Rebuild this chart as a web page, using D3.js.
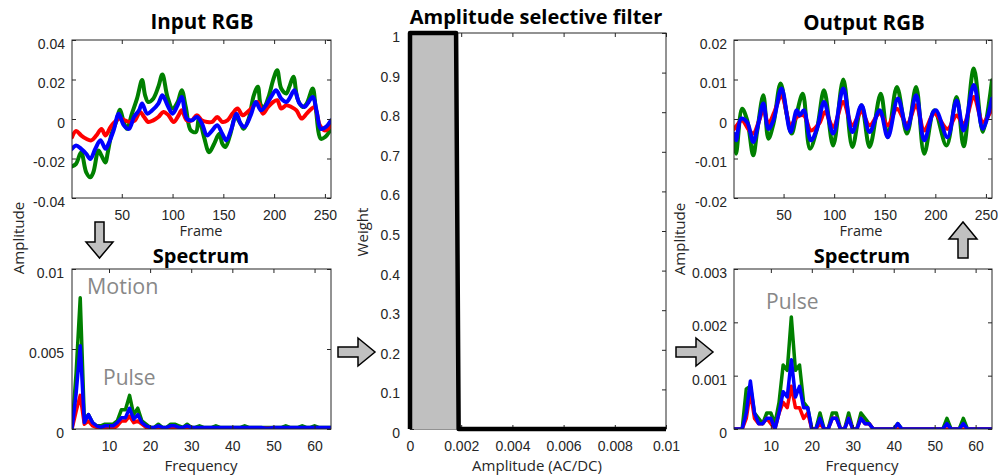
<!DOCTYPE html>
<html><head><meta charset="utf-8">
<script src="https://cdn.jsdelivr.net/npm/d3@7"></script>
<style>body{margin:0;background:#fff}svg{display:block}</style>
</head><body>
<svg id="c" width="998" height="476"></svg>
<script>
// ---------- DATA ----------
// Input RGB (frame, value)
const inFramesG = [1,5,10,15,19,22,27,30,34,36,40,45,48,52,55,60,65,70,73,76,81,86,90,95,100,105,109,113,118,123,126,131,136,141,146,149,152,157,162,167,170,175,180,184,187,190,195,199,203,207,212,215,219,223,228,232,238,241,246,250,255,256];
const inG = [-0.024,-0.0227,-0.0168,-0.027,-0.0295,-0.027,-0.016,-0.0185,-0.022,-0.0176,-0.0075,-0.0007,0.0047,-0.0015,-0.005,0.0027,0.0103,0.0197,0.012,0.0086,0.0103,0.0163,0.0225,0.0112,0.0053,0.0086,0.0146,0.0061,-0.0058,-0.0066,0.0002,-0.0092,-0.0168,-0.0125,-0.0075,-0.0125,-0.0142,-0.0075,0.001,-0.0024,-0.005,0.0002,0.012,0.0163,0.007,0.0061,0.012,0.0197,0.0247,0.0154,0.0129,0.0163,0.0214,0.0103,0.0061,0.0078,0.0154,0.0053,-0.01,-0.0092,-0.0058,-0.0046];
const inFramesR = [1,5,10,15,20,25,30,34,39,43,48,53,58,63,68,72,76,81,86,91,96,101,106,109,114,119,124,129,134,139,144,149,154,159,164,169,174,179,184,189,194,199,203,207,212,217,222,227,232,237,240,245,250,255,256];
const inR = [-0.0092,-0.0061,-0.0083,-0.01,-0.0108,-0.0083,-0.005,-0.0083,-0.004,-0.0015,0.0002,-0.0007,-0.0015,-0.0007,0.0036,0.001,-0.0015,-0.0007,0.001,0.0036,0.0019,-0.0015,0.0019,0.0044,-0.0007,-0.0007,0.0019,-0.0007,-0.0015,-0.0015,0.001,-0.0015,-0.0007,0.0027,0.0053,0.0019,0.0036,0.0061,0.0086,0.0027,0.0061,0.0086,0.0095,0.0053,0.007,0.0061,0.0044,0.0002,0.0027,0.0053,0.0061,-0.0032,-0.0058,-0.004,-0.0032];
const inFramesB = [1,5,10,15,19,24,29,34,37,42,47,52,57,62,67,70,75,80,86,90,95,100,105,109,114,119,124,129,134,139,144,149,153,158,163,167,171,177,182,187,192,197,202,207,212,215,220,225,230,233,238,242,246,251,256];
const inB = [-0.0151,-0.0134,-0.0151,-0.0176,-0.0202,-0.0151,-0.0108,-0.0151,-0.0125,-0.0058,0.0027,-0.0032,-0.005,0.001,0.0044,0.0078,0.0027,0.0044,0.0078,0.012,0.007,0.0027,0.007,0.0112,0.0002,-0.0007,0.001,-0.0024,-0.0083,-0.0058,-0.0032,-0.0075,-0.0108,-0.005,0.0027,-0.0024,-0.004,0.0019,0.0086,0.0044,0.007,0.0112,0.0146,0.0103,0.0086,0.0103,0.0146,0.0078,0.0061,0.0078,0.0112,0.0036,-0.005,-0.004,-0.0007];

// Output RGB (frame, value)
const outFramesG = [1,3,9,14,20,24,30,35,40,47,53,58,63,69,76,83,90,99,109,118,127,135,146,153,162,172,181,189,199,211,221,228,238,247,256];
const outG = [-0.0054,-0.0088,0.0026,-0.0003,-0.0092,-0.0029,0.006,-0.005,-0.0012,0.009,0.0014,-0.0037,0.0014,0.0064,-0.0075,-0.0025,0.0073,-0.0067,0.01,-0.0071,0.0035,-0.0071,0.0064,-0.0046,0.0081,-0.0037,0.0081,-0.0088,0.0022,-0.0067,0.0056,-0.0069,0.0128,-0.0033,0.0098];
const outFramesB = [1,3,8,14,20,25,30,35,40,48,57,63,66,70,77,83,90,99,109,118,127,135,145,153,163,172,181,189,198,201,212,221,228,238,247,256];
const outB = [-0.0037,-0.0054,0.0001,-0.0008,-0.0058,-0.0012,0.0039,-0.0025,-0.0003,0.0077,-0.0033,0.0022,0.0009,0.0022,-0.0054,-0.0025,0.0043,-0.0037,0.0077,-0.0033,0.0035,-0.0033,0.0022,-0.0046,0.0052,-0.0025,0.006,-0.0054,0.0018,0.0022,-0.0046,0.0047,-0.0029,0.0086,-0.0025,0.0052];
const outFramesR = [1,4,9,15,20,26,30,35,41,48,57,63,70,77,85,91,99,109,118,127,135,145,153,162,172,181,189,199,212,221,228,238,247,256];
const outR = [-0.0025,-0.0016,-0.0003,-0.0025,-0.0037,-0.0003,0.0026,-0.0012,0.0018,0.006,-0.0016,0.0005,0.0009,-0.0029,-0.0012,0.0018,-0.002,0.0043,-0.0016,0.0018,-0.0016,0.0014,-0.0016,0.0026,-0.0012,0.0035,-0.0029,0.0014,-0.0025,0.0009,-0.0012,0.0056,-0.0008,0.0026];

// Spectra: frequency bins 1..64
const freqs = d3.range(1, 65);
const specInG = [0,0.0035,0.0082,0.0006,0.0009,0.0004,0.0002,0.0002,0.0003,0.0003,
  0.0003,0.0005,0.0012,0.0012,0.0021,0.0009,0.0013,0.0005,0.0003,0.0001,
  0.0001,0.0003,0.0001,0.0001,0.0003,0.0003,0.0002,0.0001,0.0003,0.0001,
  0.0001,0.0002,0.0001,0.0001,0.0001,0.0002,0.0001,0.0001,0.0001,0.0001,
  0.0001,0.0001,0.0002,0.0001,0.0001,0.0001,0.0001,0.0001,0.0001,0.0001,
  0.0001,0.0001,0.0002,0.0001,0.0001,0.0001,0.0002,0.0001,0.0001,0.0002,
  0.0001,0.0001,0.0001,0.0001];
const specInR = [0,0.0011,0.0021,0.0003,0.0005,0.0002,0.0001,0.0001,0.0001,0.0001,
  0,0.0002,0.0005,0.0005,0.0008,0.0004,0.0005,0.0003,0.0001,0,
  0.00005,0.0001,0.00005,0.00005,0.0001,0.0001,0.00005,0.00005,0.0001,0.00005,
  0.00005,0.00005,0.00005,0.00005,0.00005,0.00005,0.00005,0.00005,0.00005,0.00005,
  0.00005,0.00005,0.00005,0.00005,0.00005,0.00005,0.00005,0.00005,0.00005,0.00005,
  0.00005,0.00005,0.00005,0.00005,0.00005,0.00005,0.00005,0.00005,0.00005,0.00005,
  0.00005,0.00005,0.00005,0.00005];
const specInB = [0,0.0022,0.0052,0.0004,0.0009,0.0004,0.0002,0.0001,0.0002,0.0002,
  0.0002,0.0004,0.0007,0.0007,0.0013,0.0006,0.0009,0.0004,0.0002,0.0001,
  0.0001,0.0002,0.0001,0.0001,0.0002,0.0002,0.0001,0.0001,0.0002,0.0001,
  0.0001,0.0001,0.0001,0.0001,0.0001,0.0001,0.0001,0.0001,0.0001,0.0001,
  0.0001,0.0001,0.0001,0.0001,0.0001,0.0001,0.0001,0.00005,0.00005,0.0001,
  0.0001,0.0001,0.0001,0.0001,0.0001,0.0001,0.0001,0.0001,0.0001,0.0001,
  0.0001,0.0001,0.0001,0.0001];
const specOutG = [0,0,0,0.00075,0.0008,0.0003,0.0002,0.0001,0.0003,0.0003,
  0.0001,0.0005,0.0012,0.0011,0.0021,0.0011,0.0012,0.0005,0.0004,0,
  0,0.0003,0,0,0.0003,0.0003,0,0,0.0003,0,
  0,0.0003,0.0002,0.0001,0,0,0,0,0,0,
  0.0001,0,0,0,0,0,0,0,0,0,
  0,0,0.0002,0,0,0,0.0002,0,0,0,
  0,0,0,0];
const specOutR = [0,0,0,0.0002,0.0007,0.0002,0.0001,0.0001,0.0002,0.0001,
  0,0.0003,0.0005,0.0004,0.0008,0.0004,0.0004,0.0002,0.0003,0,
  0,0.0001,0,0,0.0002,0.0002,0,0,0.0002,0,
  0,0.0002,0.0001,0.0001,0,0,0,0,0,0,
  0,0,0,0,0,0,0,0,0,0,
  0,0,0,0,0,0,0,0,0,0,
  0,0,0,0];
const specOutB = [0,0,0,0.0003,0.0009,0.0003,0.0001,0.0001,0.0002,0.0002,
  0,0.0003,0.0007,0.0006,0.0013,0.0006,0.0008,0.0004,0.0004,0,
  0,0.0002,0,0,0.0002,0.0002,0,0,0.0002,0,
  0,0.0002,0.0001,0.0001,0,0,0,0,0,0,
  0.0001,0,0,0,0,0,0,0,0,0,
  0,0,0.0001,0,0,0,0.0001,0,0,0,
  0,0,0,0];

// Amplitude selective filter
const filterX = [0, 0, 0.0018, 0.0019, 0.01];
const filterY = [0, 1, 1, 0, 0];

// Ticks
const frameTicks = [50,100,150,200,250];
const freqTicks = [10,20,30,40,50,60];
const inYTicks = [-0.04,-0.02,0,0.02,0.04];
const outYTicks = [-0.02,-0.01,0,0.01,0.02];
const specInYTicks = [0,0.005,0.01];
const specOutYTicks = [0,0.001,0.002,0.003];
const filtXTicks = [0,0.002,0.004,0.006,0.008,0.01];
const filtYTicks = [0,0.1,0.2,0.3,0.4,0.5,0.6,0.7,0.8,0.9,1];

const colG = "#008000", colR = "#ff0000", colB = "#0000ff";

// ---------- DRAW ----------
const svg = d3.select("#c");
const TICKFONT = "'Liberation Sans', Arial, sans-serif";
const LABFONT = "'Open Sans', 'Noto Sans', sans-serif";
let clipId = 0;

function fmt(v){ return String(+v.toPrecision(6)); }

function panel(o){
  const x = d3.scaleLinear().domain(o.xd).range([o.l, o.r]);
  const y = d3.scaleLinear().domain(o.yd).range([o.b, o.t]);
  const id = "clip" + (clipId++);
  svg.append("clipPath").attr("id", id).append("rect")
    .attr("x", o.l).attr("y", o.t).attr("width", o.r - o.l).attr("height", o.b - o.t);
  const g = svg.append("g");
  const lg = g.append("g").attr("clip-path", o.noclip ? null : `url(#${id})`);
  (o.series || []).forEach(s => {
    const pts = s.xs.map((xv, i) => [xv, s.ys[i]]);
    lg.append("path").datum(pts)
      .attr("fill", "none").attr("stroke", s.color).attr("stroke-width", o.lw)
      .attr("stroke-linejoin", "round").attr("stroke-linecap", "round")
      .attr("d", d3.line().x(d => x(d[0])).y(d => y(d[1])).curve(o.curve || d3.curveLinear));
  });
  const st = a => {
    a.select(".domain").remove();
    a.attr("font-family", TICKFONT).attr("font-size", 14);
    a.selectAll(".tick line").attr("stroke", "#262626");
    a.selectAll(".tick text").attr("fill", "#262626");
  };
  g.append("g").attr("transform", `translate(0,${o.b})`)
    .call(d3.axisBottom(x).tickValues(o.xt).tickFormat(fmt).tickSizeInner(-4).tickSizeOuter(0).tickPadding(12)).call(st);
  g.append("g").attr("transform", `translate(0,${o.t})`)
    .call(d3.axisTop(x).tickValues(o.xt).tickFormat("").tickSizeInner(-4).tickSizeOuter(0)).call(st);
  const la = g.append("g").attr("transform", `translate(${o.l},0)`)
    .call(d3.axisLeft(y).tickValues(o.yt).tickFormat(fmt).tickSizeInner(-4).tickSizeOuter(0).tickPadding(o.ypad || 7)).call(st);
  la.selectAll(".tick text").attr("y", 4);
  g.append("g").attr("transform", `translate(${o.r},0)`)
    .call(d3.axisRight(y).tickValues(o.yt).tickFormat("").tickSizeInner(-4).tickSizeOuter(0)).call(st);
  g.append("rect").attr("x", o.l).attr("y", o.t).attr("width", o.r - o.l).attr("height", o.b - o.t)
    .attr("fill", "none").attr("stroke", "#262626").attr("stroke-width", 1);
  if (o.top) o.top(g, x, y);
  return {x, y};
}

function text(s, x, y, opts){
  const t = svg.append("text").attr("x", x).attr("y", y).text(s)
    .attr("text-anchor", opts.anchor || "middle")
    .attr("font-family", opts.family || LABFONT)
    .attr("font-size", opts.size || 16)
    .attr("font-weight", opts.weight || "normal")
    .attr("fill", opts.fill || "#262626");
  if (opts.rotate) t.attr("transform", `rotate(-90,${x},${y})`);
  return t;
}

// Input RGB
panel({l:72, r:331, t:40, b:198, xd:[1,256], yd:[-0.04,0.04], xt:frameTicks, yt:inYTicks, lw:4,
  curve: d3.curveCatmullRom.alpha(0.5),
  series:[{xs:inFramesG, ys:inG, color:colG},{xs:inFramesR, ys:inR, color:colR},{xs:inFramesB, ys:inB, color:colB}]});
// Input spectrum
panel({l:72, r:331, t:269, b:429, xd:[1,64], yd:[0,0.01], xt:freqTicks, yt:specInYTicks, lw:3.5, ypad:8,
  series:[{xs:freqs, ys:specInG, color:colG},{xs:freqs, ys:specInR, color:colR},{xs:freqs, ys:specInB, color:colB}]});
// Filter
panel({l:410, r:666, t:33, b:429, xd:[0,0.01], yd:[0,1], xt:filtXTicks, yt:filtYTicks, lw:4, ypad:10, noclip:true,
  top:(g, x, y) => {
    const pts = filterX.map((v, i) => [v, filterY[i]]);
    g.append("path").datum(pts.slice(0, 4))
      .attr("fill", "#c0c0c0").attr("stroke", "none")
      .attr("d", d3.line().x(d => x(d[0])).y(d => y(d[1])));
    g.append("path").datum(pts)
      .attr("fill", "none").attr("stroke", "#000").attr("stroke-width", 4.5)
      .attr("stroke-linejoin", "round")
      .attr("d", d3.line().x(d => x(d[0])).y(d => y(d[1])));
  }});
// Output RGB
panel({l:734, r:992, t:40, b:198, xd:[1,256], yd:[-0.02,0.02], xt:frameTicks, yt:outYTicks, lw:4,
  curve: d3.curveCatmullRom.alpha(0.5),
  series:[{xs:outFramesG, ys:outG, color:colG},{xs:outFramesR, ys:outR, color:colR},{xs:outFramesB, ys:outB, color:colB}]});
// Output spectrum
panel({l:734, r:992, t:269, b:429, xd:[1,64], yd:[0,0.003], xt:freqTicks, yt:specOutYTicks, lw:3.5,
  series:[{xs:freqs, ys:specOutG, color:colG},{xs:freqs, ys:specOutR, color:colR},{xs:freqs, ys:specOutB, color:colB}]});

// Titles
text("Input RGB", 202, 29, {size:20.5, weight:"bold", fill:"#000"});
text("Spectrum", 201, 262.5, {size:20, weight:"bold", fill:"#000"});
text("Amplitude selective filter", 536, 24, {size:20, weight:"bold", fill:"#000"});
text("Output RGB", 864, 30, {size:20.5, weight:"bold", fill:"#000"});
text("Spectrum", 862, 262.5, {size:20, weight:"bold", fill:"#000"});

// Axis labels
text("Frame", 201, 236, {size:14.5});
text("Frequency", 201, 471, {size:15});
text("Frame", 861, 236, {size:14.5});
text("Frequency", 862, 471, {size:15});
text("Amplitude (AC/DC)", 537, 471, {size:15});
text("Amplitude", 24, 238, {size:15, rotate:true});
text("Amplitude", 685, 239, {size:15, rotate:true});
text("Weight", 368, 232, {size:15, rotate:true});

// Annotations
text("Motion", 87, 294, {size:21.5, anchor:"start", fill:"#888"});
text("Pulse", 103, 385, {size:21, anchor:"start", fill:"#888"});
text("Pulse", 766, 309, {size:21, anchor:"start", fill:"#888"});

// Arrows
function arrow(pathD){
  svg.append("path").attr("d", pathD).attr("fill", "#c0c0c0").attr("stroke", "#000").attr("stroke-width", 1.5).attr("stroke-linejoin", "miter");
}
arrow("M95,222 L104,222 L104,242 L113,242 L99.5,258 L86,242 L95,242 Z");
arrow("M958,258 L968,258 L968,239 L977,239 L963,222 L949,239 L958,239 Z");
arrow("M338,347 L358,347 L358,338 L375,352 L358,366 L358,357 L338,357 Z");
arrow("M676,347 L696,347 L696,338 L713,352 L696,366 L696,357 L676,357 Z");
</script>
</body></html>
